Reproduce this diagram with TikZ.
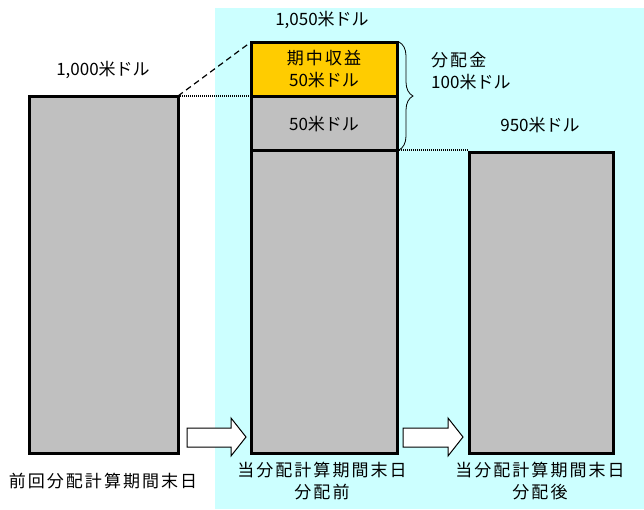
\documentclass[tikz,border=0pt]{standalone}
\usepackage{fontspec}
\setmainfont{Noto Sans CJK JP}
\newfontfamily\cjks[LetterSpace=12]{Noto Sans CJK JP}
\usetikzlibrary{decorations.pathreplacing}
\definecolor{bgcyan}{HTML}{CCFFFF}
\definecolor{bargray}{HTML}{C0C0C0}
\definecolor{gold}{HTML}{FFCC00}
\begin{document}
\begin{tikzpicture}[x=1pt,y=-1pt,
  bar/.style={draw=black,line width=3pt,fill=bargray},
  lbl/.style={font=\fontsize{17}{22}\selectfont,align=center,inner sep=0pt},
  fat/.style={draw=black,line width=1pt,fill=white}]
\useasboundingbox (0,0) rectangle (644,509);
\fill[bgcyan] (215,8) rectangle (644,509);
% bars
\draw[bar] (29,96) rectangle (178,453);
\coordinate (L) at (178,96);
\draw[bar] (251,150) rectangle (397,453);
\draw[bar] (251,96) rectangle (397,150);
\draw[bar,fill=gold] (251,42) rectangle (397,96);
\draw[bar] (469,152) rectangle (613,453);
\coordinate (MTL) at (251,42);
\coordinate (MML) at (251,96);
\coordinate (MBR) at (397,150);
\coordinate (RTL) at (469,150);
% connectors
\draw[dashed,line width=1.2pt,dash pattern=on 6pt off 4pt] (L) -- (MTL);
\draw[line width=1.5pt,dash pattern=on 1pt off 1pt] (L) -- (MML);
\draw[line width=1.5pt,dash pattern=on 1pt off 1pt] (MBR) -- (RTL);
% brace
\draw[line width=0.8pt,decorate,decoration={brace,amplitude=14pt}] (399,42) -- (399,150);
% arrows
\draw[fat] (187,428) -- (231,428) -- (231,418) -- (246,437) -- (231,456) -- (231,447) -- (187,447) -- cycle;
\draw[fat] (403,428) -- (448,428) -- (448,418) -- (463,437) -- (448,456) -- (448,447) -- (403,447) -- cycle;
% labels
\node[lbl] (t1) at (103,70) {1,000米ドル};
\node[lbl] (t2) at (322,20) {1,050米ドル};
\node[lbl] (t3) at (540,125) {950米ドル};
\node[lbl] (y) at (324,69) {{\cjks 期中収益}\\50米ドル};
\node[lbl] (g) at (324,124) {50米ドル};
\node[lbl,align=left,anchor=west] (d) at (431,71) {{\cjks 分配金}\\100米ドル};
\node[lbl] (b1) at (103,481) {\cjks 前回分配計算期間末日};
\node[lbl] (b2) at (322,481) {{\cjks 当分配計算期間末日}\\{\cjks 分配前}};
\node[lbl] (b3) at (540,481) {{\cjks 当分配計算期間末日}\\{\cjks 分配後}};
\end{tikzpicture}
\end{document}
